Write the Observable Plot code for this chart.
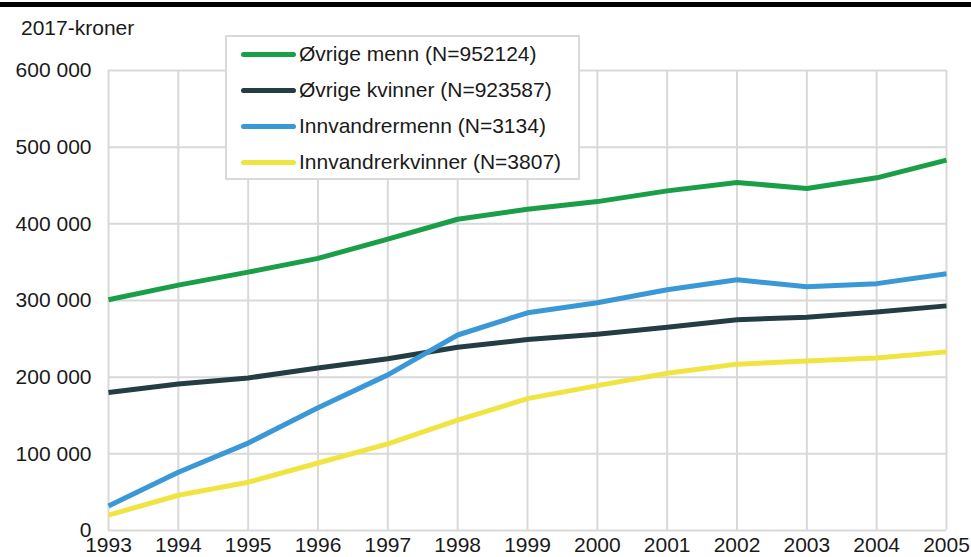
<!DOCTYPE html>
<html>
<head>
<meta charset="utf-8">
<script src="https://cdn.jsdelivr.net/npm/d3@7"></script>
<script src="https://cdn.jsdelivr.net/npm/@observablehq/plot@0.6"></script>
<style>
  body { margin: 0; background: #fff; font-family: "Liberation Sans", Arial, sans-serif; }
  #wrap { position: relative; width: 971px; height: 557px; }
  #topbar { position: absolute; left: 0; top: 2px; width: 971px; height: 5px; background: #000; }
  #unit { position: absolute; left: 21px; top: 16px; font-size: 21px; color: #1a1a1a; }
  #legend { position: absolute; left: 225px; top: 35px; width: 355px; height: 145px; background: #fff;
            border: 2px solid #d9d9d9; box-sizing: border-box; }
  .item { position: absolute; left: 14px; height: 24px; display: flex; align-items: center; font-size: 21px; color: #1a1a1a; white-space: nowrap; }
  .sw { width: 55px; height: 5px; border-radius: 3px; margin-right: 3px; }
</style>
</head>
<body>
<div id="wrap">
  <div id="chart"></div>
  <div id="topbar"></div>
  <div id="unit">2017-kroner</div>
  <div id="legend"></div>
</div>
<script>
const years = [1993,1994,1995,1996,1997,1998,1999,2000,2001,2002,2003,2004,2005];
const seriesNames = ["Øvrige menn (N=952124)", "Øvrige kvinner (N=923587)", "Innvandrermenn (N=3134)", "Innvandrerkvinner (N=3807)"];
const ovrigeMenn     = [301000,320000,337000,355000,380000,406000,419000,429000,443000,454000,446000,460000,483000];
const ovrigeKvinner  = [180000,191000,199000,212000,224000,239000,249000,256000,265000,275000,278000,285000,293000];
const innvMenn       = [32000,76000,114000,160000,203000,255000,284000,297000,314000,327000,318000,322000,335000];
const innvKvinner    = [20000,46000,63000,88000,113000,144000,172000,189000,205000,217000,221000,225000,233000];
const yTicks = [0,100000,200000,300000,400000,500000,600000];
const colors = ["#1a9e48", "#243d43", "#3a98d6", "#f0e443"];

const allSeries = [ovrigeMenn, ovrigeKvinner, innvMenn, innvKvinner];
const rows = [];
allSeries.forEach((vals, i) => vals.forEach((v, j) => rows.push({year: years[j], value: v, series: seriesNames[i]})));

const fmt = d => d3.format(",")(d).replace(/,/g, " ");

const chart = Plot.plot({
  width: 971,
  height: 557,
  marginLeft: 108,
  marginRight: 25,
  marginTop: 70,
  marginBottom: 27,
  style: { fontFamily: '"Liberation Sans", Arial, sans-serif', fontSize: "21px", color: "#1a1a1a", background: "#fff" },
  x: { domain: [1993, 2005], ticks: years, tickFormat: "d", tickSize: 0, tickPadding: 7, label: null },
  y: { domain: [0, 600000], ticks: yTicks, tickFormat: fmt, tickSize: 0, tickPadding: 17, label: null },
  color: { domain: seriesNames, range: colors },
  marks: [
    Plot.ruleX(years, { stroke: "#d9d9d9", strokeWidth: 2 }),
    Plot.ruleY(yTicks, { stroke: "#d9d9d9", strokeWidth: 2 }),
    Plot.line(rows, { x: "year", y: "value", z: "series", stroke: "series", strokeWidth: 5, strokeLinejoin: "round", strokeLinecap: "butt" })
  ]
});
document.getElementById("chart").appendChild(chart);

const legend = document.getElementById("legend");
seriesNames.forEach((name, i) => {
  const it = document.createElement("div");
  it.className = "item";
  it.style.top = (5 + i * 36) + "px";
  const sw = document.createElement("div");
  sw.className = "sw";
  sw.style.background = colors[i];
  const t = document.createElement("span");
  t.textContent = name;
  it.appendChild(sw); it.appendChild(t);
  legend.appendChild(it);
});
</script>
</body>
</html>
